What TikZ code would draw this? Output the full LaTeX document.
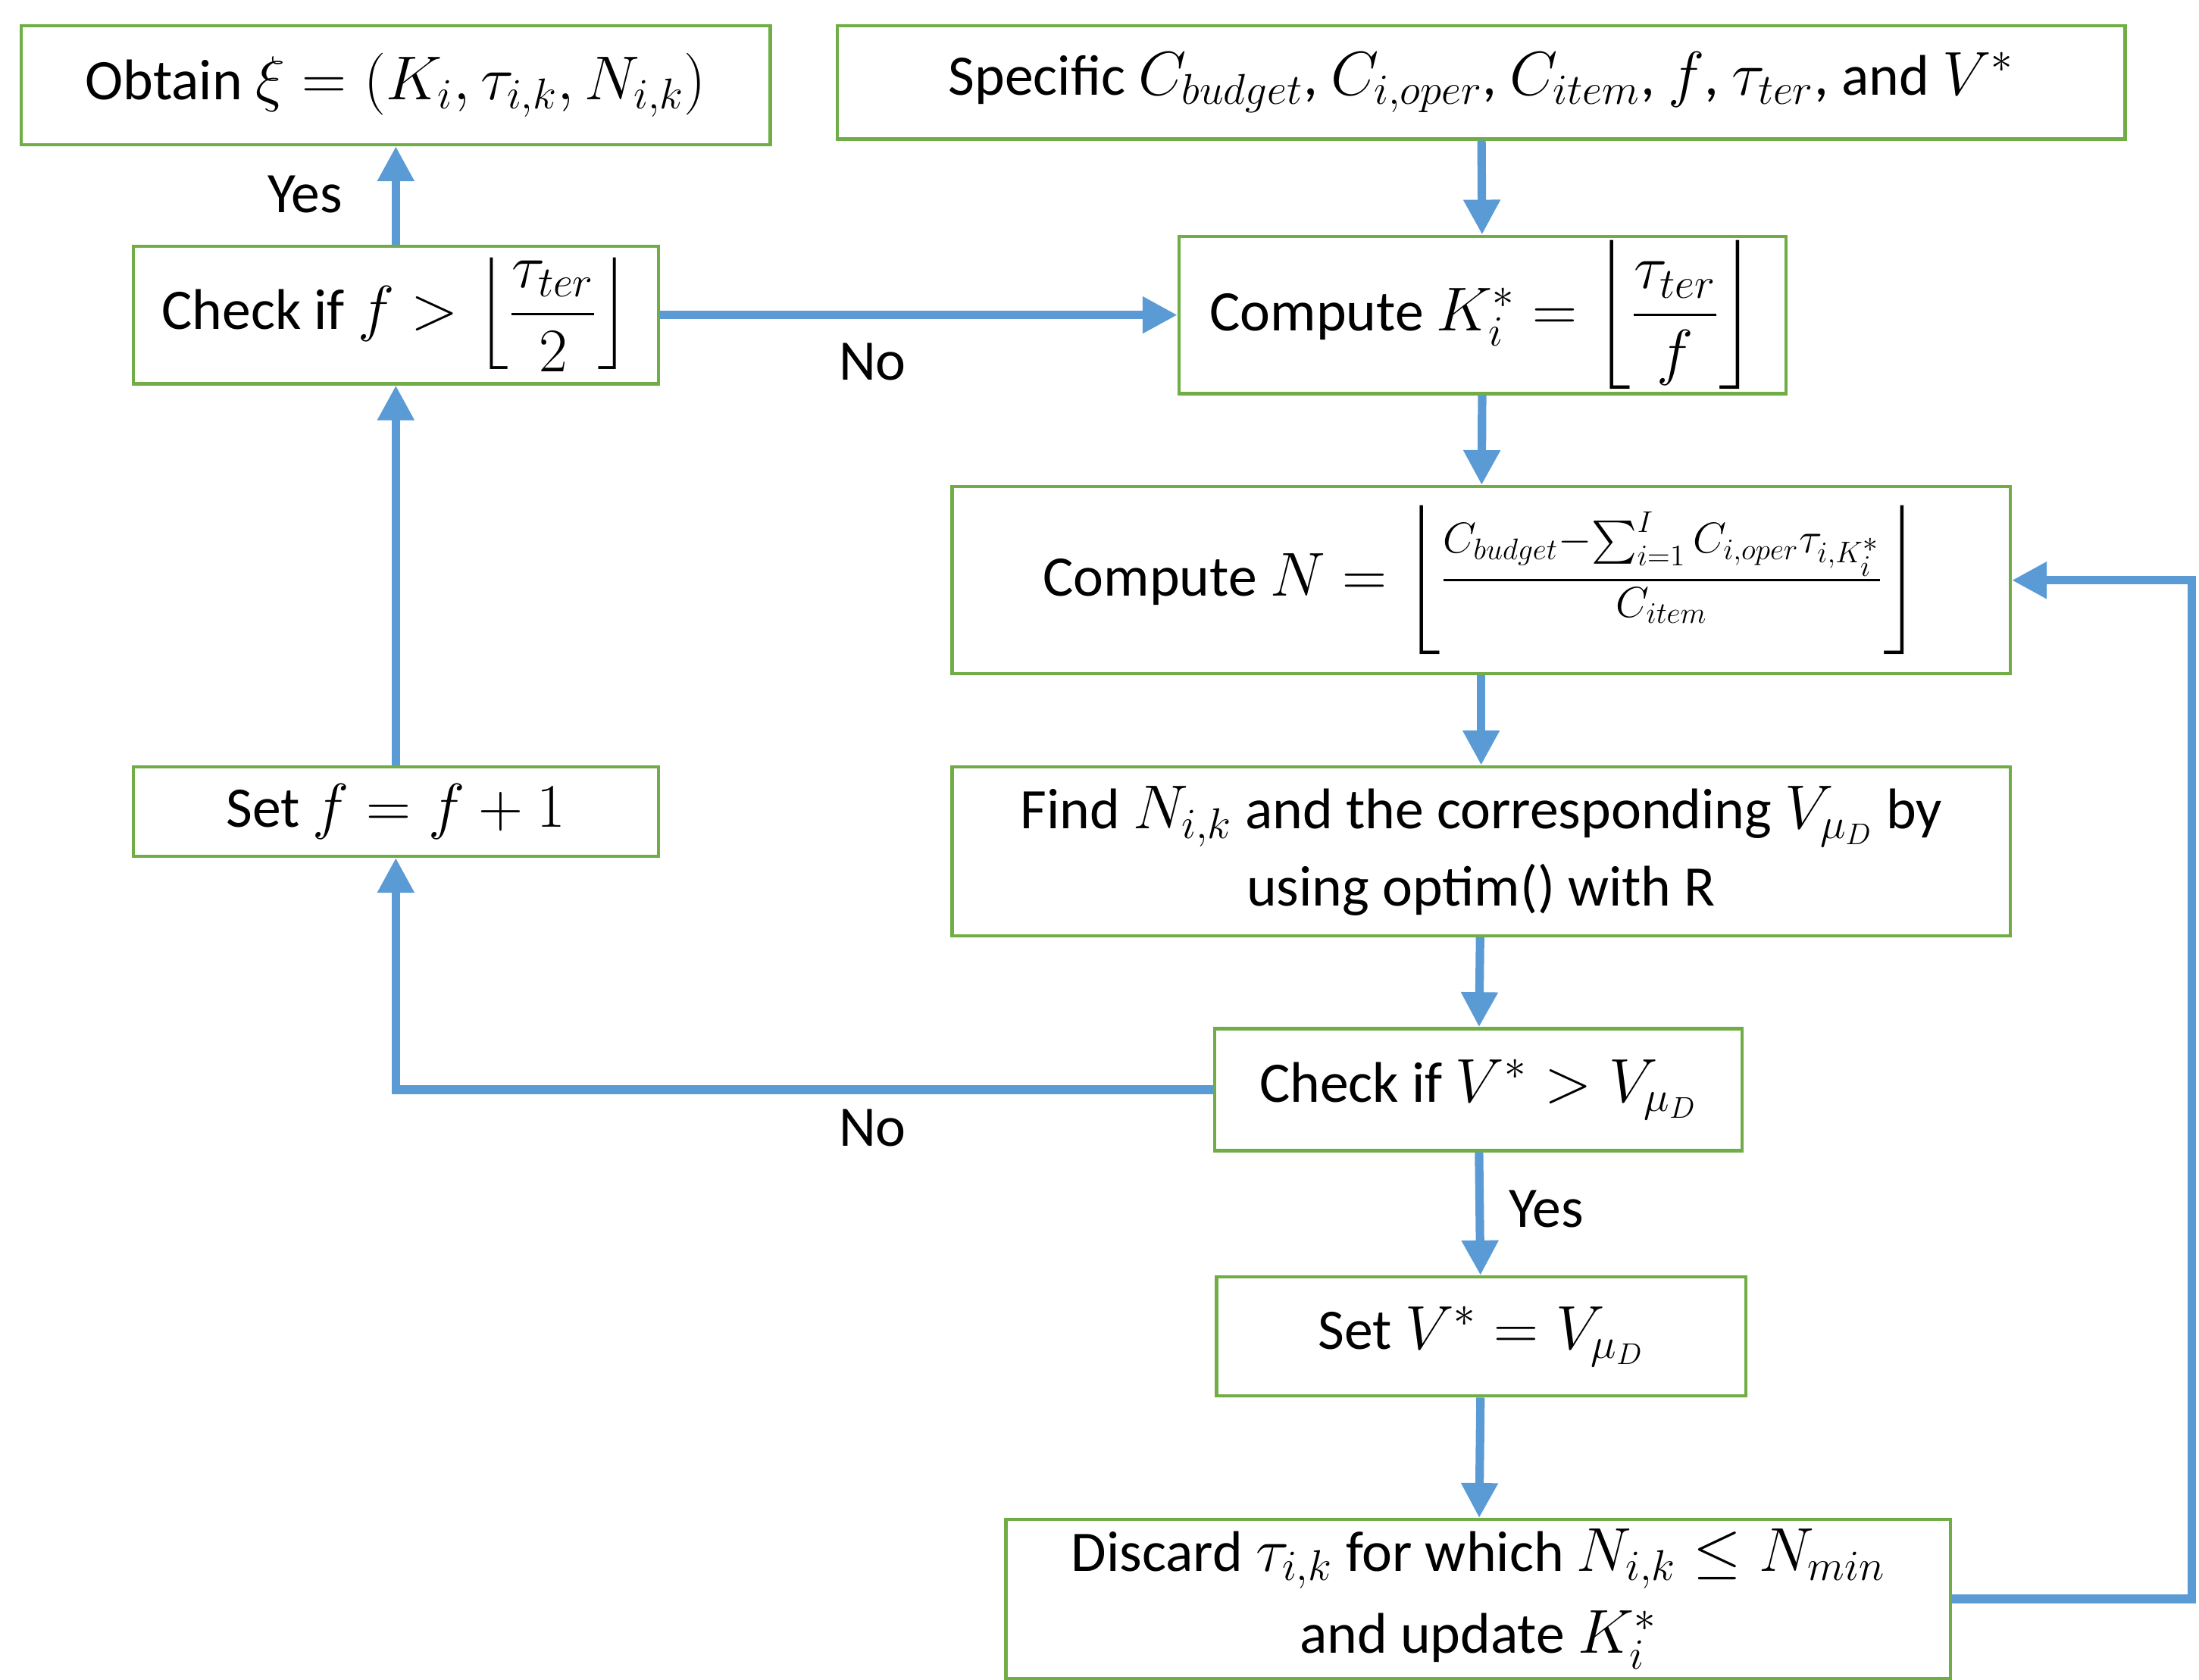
\documentclass[tikz,border=0pt]{standalone}
\usepackage{amsmath}
\usepackage{fontspec}
\setmainfont{Carlito}
\usetikzlibrary{arrows.meta}
\definecolor{bl}{RGB}{91,155,213}
\definecolor{gr}{RGB}{112,173,71}
\begin{document}
\begin{tikzpicture}[x=0.02cm,y=-0.02cm,
 box/.style={draw=gr,line width=1.3pt,inner sep=0pt,align=center,font=\fontsize{23}{31}\selectfont},
 ar/.style={draw=bl,line width=3.4pt,-{Triangle[length=14pt,width=14pt]}},
 lb/.style={font=\fontsize{23}{27}\selectfont}]
\useasboundingbox (0,0) rectangle (1550,1184);
\node[box,minimum width=10.56cm,minimum height=1.68cm] (ob) at (279,60) {Obtain $\xi=(K_i,\tau_{i,k},N_{i,k})$};
\node[box,minimum width=18.16cm,minimum height=1.6cm] (sp) at (1044,58) {Specific $C_{budget}$, $C_{i,oper}$, $C_{item}$, $f$, $\tau_{ter}$, and $V^*$};
\node[box,minimum width=7.4cm,minimum height=1.94cm] (cf) at (279,222) {Check if $f>\left\lfloor\dfrac{\tau_{ter}}{2}\right\rfloor$};
\node[box,minimum width=8.56cm,minimum height=2.22cm] (ck) at (1045,222) {Compute $K_i^*=\left\lfloor\dfrac{\tau_{ter}}{f}\right\rfloor$};
\node[box,minimum width=14.92cm,minimum height=2.64cm] (cn) at (1044,409) {Compute $N=\left\lfloor\rule[-0.9em]{0pt}{2.4em}\tfrac{C_{budget}-\sum_{i=1}^{I}C_{i,oper}\tau_{i,K_i^*}}{C_{item}}\right\rfloor$};
\node[box,minimum width=7.4cm,minimum height=1.26cm] (sf) at (279,572) {Set $f=f+1$};
\node[box,minimum width=14.92cm,minimum height=2.38cm] (fi) at (1044,600) {Find $N_{i,k}$ and the corresponding $V_{\mu_D}$ by\\using optim() with R};
\node[box,minimum width=7.44cm,minimum height=1.72cm] (cv) at (1042,768) {Check if $V^*>V_{\mu_D}$};
\node[box,minimum width=7.46cm,minimum height=1.68cm] (sv) at (1044,942) {Set $V^*=V_{\mu_D}$};
\node[box,minimum width=13.32cm,minimum height=2.24cm,font=\fontsize{23}{33}\selectfont] (di) at (1042,1127) {Discard $\tau_{i,k}$ for which $N_{i,k}\le N_{min}$\\and update $K_i^*$};
\draw[ar] (sp) -- (ck);
\draw[ar] (ck) -- (cn);
\draw[ar] (cn) -- (fi);
\draw[ar] (fi) -- (cv);
\draw[ar] (cv) -- (sv);
\draw[ar] (sv) -- (di);
\draw[ar] (cf) -- (ob);
\draw[ar] (sf) -- (cf);
\draw[ar] (cf) -- (ck);
\draw[ar] (cv.west) -| (sf.south);
\draw[ar] (di.east) -- (1545,1127) |- (cn.east);
\node[lb] at (215,137) {Yes};
\node[lb] at (615,255) {No};
\node[lb] at (615,795) {No};
\node[lb] at (1090,852) {Yes};
\end{tikzpicture}
\end{document}
